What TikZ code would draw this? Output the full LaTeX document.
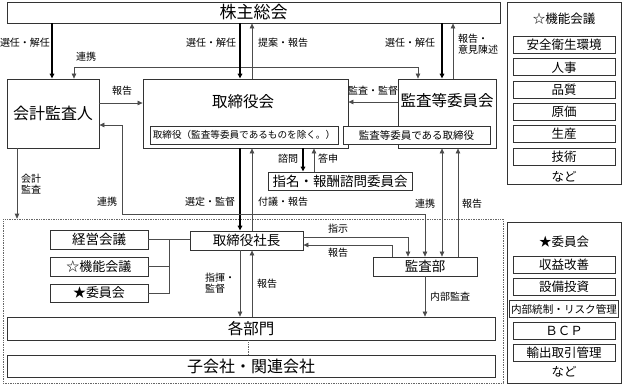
\documentclass[tikz,border=0pt]{standalone}
\usepackage{fontspec}
\setmainfont{Noto Sans CJK JP}
\usetikzlibrary{arrows.meta}
\newcommand{\fs}[1]{\fontsize{#1}{#1}\selectfont}
\begin{document}
\begin{tikzpicture}[x=1pt,y=-1pt,
  >={Triangle[length=5pt,width=4.5pt]},
  box/.style={draw=black!80,line width=0.8pt,fill=white,inner sep=0pt},
  sub/.style={box,minimum width=102,minimum height=17,font=\fs{12.5}},
  lbl/.style={inner sep=0pt,font=\fs{10}},
  thk/.style={line width=1.6pt,black},
  thn/.style={line width=0.7pt,black!70},
  frame/.style={draw=black!60,line width=0.6pt,dash pattern=on 0.8pt off 0.9pt,inner sep=0pt}
]
\useasboundingbox (0,0) rectangle (625,384);
% column / row helper coordinates
\coordinate (xA) at (52,0);
\coordinate (xC) at (240,0);
\coordinate (xD) at (252,0);
\coordinate (xF) at (442,0);
\coordinate (xG) at (453,0);
\coordinate (xH) at (303,0);
\coordinate (xI) at (314,0);
\coordinate (xJ) at (17,0);
\coordinate (xO) at (458,0);
\coordinate (xP) at (169,0);
\coordinate (xQ) at (248,0);
\coordinate (yB) at (0,103);
\coordinate (yC) at (0,102);
\coordinate (yD) at (0,125);
\coordinate (yF) at (0,237);
\coordinate (yG) at (0,245);
\coordinate (r1) at (74,67);
\coordinate (r2) at (418,67);
\coordinate (r3) at (122,125);
\coordinate (r4) at (122,214);
\coordinate (r5) at (425,214);
\coordinate (r6) at (408,237);
\coordinate (r7) at (392,245);

% frame
\node[frame,minimum width=500,minimum height=164] (frm) at (253,301) {};

% top
\node[box,minimum width=493,minimum height=21,font=\fs{17}] (gm) at (253.5,12.5) {株主総会};
\node[box,minimum width=92,minimum height=69,font=\fs{16}] (kaikei) at (53,113.5) {会計監査人};
\node[box,minimum width=205,minimum height=69] (bod) at (245.5,113.5) {};
\node[inner sep=0pt,font=\fs{15.5}] (bodt) at (243,102) {取締役会};
\node[box,minimum width=98,minimum height=69] (kansa) at (447,113.5) {};
\node[inner sep=0pt,font=\fs{15.5}] (kansat) at (447,101) {監査等委員会};
\node[box,minimum width=188,minimum height=18,font=\fs{9.6}] (bodin) at (244,135) {取締役（監査等委員であるものを除く。）};
\node[box,minimum width=147,minimum height=18,font=\fs{10.5}] (kansain) at (416.5,135) {監査等委員である取締役};
\node[box,minimum width=144,minimum height=18,font=\fs{13.5}] (shimei) at (340,181) {指名・報酬諮問委員会};

% lower
\node[box,minimum width=98,minimum height=19,font=\fs{13.5}] (keiei) at (99,239.5) {経営会議};
\node[box,minimum width=98,minimum height=19,font=\fs{13}] (kino) at (99,266.5) {☆機能会議};
\node[box,minimum width=98,minimum height=18,font=\fs{13}] (iin) at (99,293) {★委員会};
\node[box,minimum width=113,minimum height=19,font=\fs{13.5}] (pres) at (246.5,240.5) {取締役社長};
\node[box,minimum width=104,minimum height=19,font=\fs{13.5}] (audit) at (425,266.5) {監査部};
\node[box,minimum width=488,minimum height=23,font=\fs{15.5}] (bumon) at (251,328.5) {各部門};
\node[box,minimum width=488,minimum height=22,font=\fs{16}] (kogai) at (251,366) {子会社・関連会社};

% right panels
\node[box,minimum width=114,minimum height=182] (p1) at (564,93) {};
\node[inner sep=0pt,font=\fs{12.5}] (p1t) at (564,19) {☆機能会議};
\node[sub] (s1) at (564,45) {安全衛生環境};
\node[sub] (s2) at (564,67.3) {人事};
\node[sub] (s3) at (564,89.6) {品質};
\node[sub] (s4) at (564,111.9) {原価};
\node[sub] (s5) at (564,134.2) {生産};
\node[sub] (s6) at (564,156.5) {技術};
\node[inner sep=0pt,font=\fs{12.5}] (p1n) at (564,177) {など};

\node[box,minimum width=114,minimum height=161] (p2) at (564,302.5) {};
\node[inner sep=0pt,font=\fs{12.5}] (p2t) at (564,242) {★委員会};
\node[sub] (t1) at (564,265) {収益改善};
\node[sub] (t2) at (564,287) {設備投資};
\node[sub,minimum width=109,font=\fs{10.6}] (t3) at (564,309) {内部統制・リスク管理};
\node[sub] (t4) at (564,331) {ＢＣＰ};
\node[sub] (t5) at (564,353) {輸出取引管理};
\node[inner sep=0pt,font=\fs{12.5}] (p2n) at (564,372) {など};

% connectors
\draw[thk,->] (gm.south -| xA) -- (kaikei.north -| xA);
\draw[thn,<->] (kaikei.north -| r1) -- (r1) -- (r2) -- (kansa.north -| r2);
\draw[thk,->] (gm.south -| xC) -- (bod.north -| xC);
\draw[thn,->] (bod.north -| xD) -- (gm.south -| xD);
\draw[thk,->] (gm.south -| xF) -- (kansa.north -| xF);
\draw[thn,->] (kansa.north -| xG) -- (gm.south -| xG);
\draw[thn,->] (kaikei.east |- yB) -- (bod.west |- yB);
\draw[thn,->] (kansa.west |- yC) -- (bod.east |- yC);
\draw[thk,->] (bod.south -| xH) -- (shimei.north -| xH);
\draw[thn,->] (shimei.north -| xI) -- (bod.south -| xI);
\draw[thk,->] (bod.south -| xC) -- (pres.north -| xC);
\draw[thn,->] (pres.north -| xD) -- (bod.south -| xD);
\draw[thn,->] (kaikei.south -| xJ) -- (frm.north -| xJ);
\draw[thn,<->] (kaikei.east |- yD) -- (r3) -- (r4) -- (r5) -- (audit.north -| r5);
\draw[thn,<->] (kansa.south -| xF) -- (audit.north -| xF);
\draw[thn,->] (audit.north -| xO) -- (kansa.south -| xO);
\draw[thn,->] (pres.east |- yF) -- (r6) -- (audit.north -| r6);
\draw[thn,->] (audit.north -| r7) -- (r7) -- (pres.east |- yG);
\draw[thn,->] (pres.south -| xC) -- (bumon.north -| xC);
\draw[thn,->] (bumon.north -| xD) -- (pres.south -| xD);
\draw[thn,->] (audit.south) -- (bumon.north -| audit.south);
\draw[thn] (keiei.east) -- (keiei.east -| pres.west);
\draw[thn] (kino.east) -- (kino.east -| xP);
\draw[thn] (iin.east) -- (iin.east -| xP) -- (keiei.east -| xP);
\draw[black!60,line width=0.6pt,dash pattern=on 0.8pt off 0.9pt] (bumon.south -| xQ) -- (kogai.north -| xQ);

% labels
\node[lbl] (l1) at (25,43) {選任・解任};
\node[lbl] (l2) at (86,57) {連携};
\node[lbl] (l3) at (211,43) {選任・解任};
\node[lbl] (l4) at (283,43) {提案・報告};
\node[lbl] (l5) at (410,43) {選任・解任};
\node[lbl,align=left,anchor=west] (l6) at (458,44.5) {報告・\\[1pt]意見陳述};
\node[lbl] (l7) at (122,91) {報告};
\node[lbl] (l8) at (373,91) {監査・監督};
\node[lbl] (l9) at (288,159) {諮問};
\node[lbl] (l10) at (328,159) {答申};
\node[lbl,align=left] (l11) at (31,184.5) {会計\\[1pt]監査};
\node[lbl] (l12) at (107,202) {連携};
\node[lbl] (l13) at (210,202) {選定・監督};
\node[lbl] (l14) at (283,202) {付議・報告};
\node[lbl] (l15) at (425,204) {連携};
\node[lbl] (l16) at (472,204) {報告};
\node[lbl] (l17) at (338,229) {指示};
\node[lbl] (l18) at (338,253) {報告};
\node[lbl,align=left,anchor=west] (l19) at (205,283) {指揮・\\[1pt]監督};
\node[lbl] (l20) at (267,284) {報告};
\node[lbl] (l21) at (450,297) {内部監査};
\end{tikzpicture}
\end{document}
